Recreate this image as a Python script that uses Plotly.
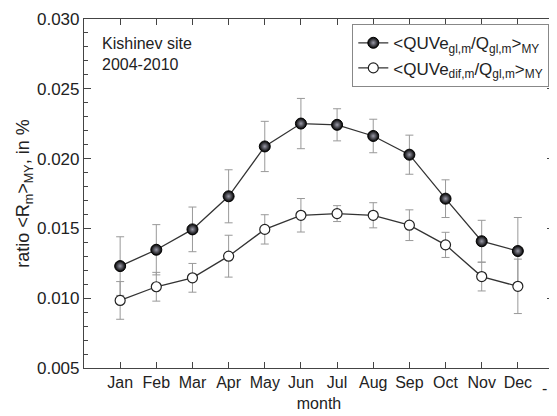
import plotly.graph_objects as go

months = ["Jan", "Feb", "Mar", "Apr", "May", "Jun", "Jul", "Aug", "Sep", "Oct", "Nov", "Dec"]
x_pos = [1, 2, 3, 4, 5, 6, 7, 8, 9, 10, 11, 12]

gl_vals = [0.01230, 0.01347, 0.01493, 0.01730, 0.02087, 0.02251, 0.02242, 0.02162, 0.02028, 0.01713, 0.01408, 0.01338]
gl_err = [0.00210, 0.00180, 0.00160, 0.00190, 0.00180, 0.00180, 0.00115, 0.00120, 0.00140, 0.00135, 0.00150, 0.00240]

dif_vals = [0.00984, 0.01082, 0.01146, 0.01301, 0.01493, 0.01594, 0.01606, 0.01594, 0.01523, 0.01382, 0.01155, 0.01085]
dif_err = [0.00135, 0.00103, 0.00103, 0.00150, 0.00105, 0.00120, 0.00057, 0.00090, 0.00110, 0.00090, 0.00103, 0.00195]

FONT = "Liberation Sans, Arial, sans-serif"

fig = go.Figure()
fig.add_trace(go.Scatter(
    x=x_pos, y=gl_vals, mode="lines+markers",
    name="<QUVe<sub>gl,m</sub>/Q<sub>gl,m</sub>><sub>MY</sub>",
    line=dict(color="#333333", width=1.3),
    marker=dict(size=11, color="#000000", line=dict(color="#000000", width=1),
                gradient=dict(type="radial", color="#9a9aa8")),
    error_y=dict(type="data", array=gl_err, color="#999999", thickness=1, width=4),
))
fig.add_trace(go.Scatter(
    x=x_pos, y=dif_vals, mode="lines+markers",
    name="<QUVe<sub>dif,m</sub>/Q<sub>gl,m</sub>><sub>MY</sub>",
    line=dict(color="#333333", width=1.3),
    marker=dict(size=10, color="white", line=dict(color="#222222", width=1.2)),
    error_y=dict(type="data", array=dif_err, color="#999999", thickness=1, width=4),
))

fig.add_annotation(x=0.035, y=0.96, xref="paper", yref="paper", xanchor="left", yanchor="top",
                   text="Kishinev site<br>2004-2010", showarrow=False, align="left",
                   font=dict(family=FONT, size=16, color="#222222"))
fig.add_annotation(x=12.75, y=0, xref="x", yref="paper", yshift=-10, yanchor="top",
                   text="-", showarrow=False, font=dict(family=FONT, size=16, color="#222222"))

fig.update_layout(
    width=549, height=408,
    margin=dict(l=76, r=2, t=5, b=48),
    paper_bgcolor="white", plot_bgcolor="white",
    font=dict(family=FONT, size=16, color="#222222"),
    showlegend=True,
    legend=dict(x=0.99, y=0.985, xanchor="right", yanchor="top",
                bordercolor="#888888", borderwidth=1, bgcolor="white",
                font=dict(family=FONT, size=17), tracegroupgap=0, itemwidth=30),
    xaxis=dict(range=[0, 13], tickvals=x_pos, ticktext=months, ticks="inside", ticklen=6,
               tickcolor="#444444", showline=True, linecolor="#444444", linewidth=1.2,
               mirror="allticks", showgrid=False, zeroline=False, ticklabeloverflow="allow",
               title=dict(text="month", font=dict(size=16), standoff=7),
               tickfont=dict(size=16)),
    yaxis=dict(range=[0.005, 0.030], tickvals=[0.005, 0.010, 0.015, 0.020, 0.025, 0.030],
               tickformat=".3f", ticks="inside", ticklen=7, tickcolor="#444444",
               showline=True, linecolor="#444444", linewidth=1.2, mirror="allticks",
               showgrid=False, zeroline=False, ticklabeloverflow="allow",
               minor=dict(dtick=0.001, tick0=0.005, ticks="inside", ticklen=4, tickcolor="#444444"),
               title=dict(text="ratio <R<sub>m</sub>><sub>MY</sub>, in %", font=dict(size=18), standoff=2),
               tickfont=dict(size=17)),
)

fig.write_html("out.html")
